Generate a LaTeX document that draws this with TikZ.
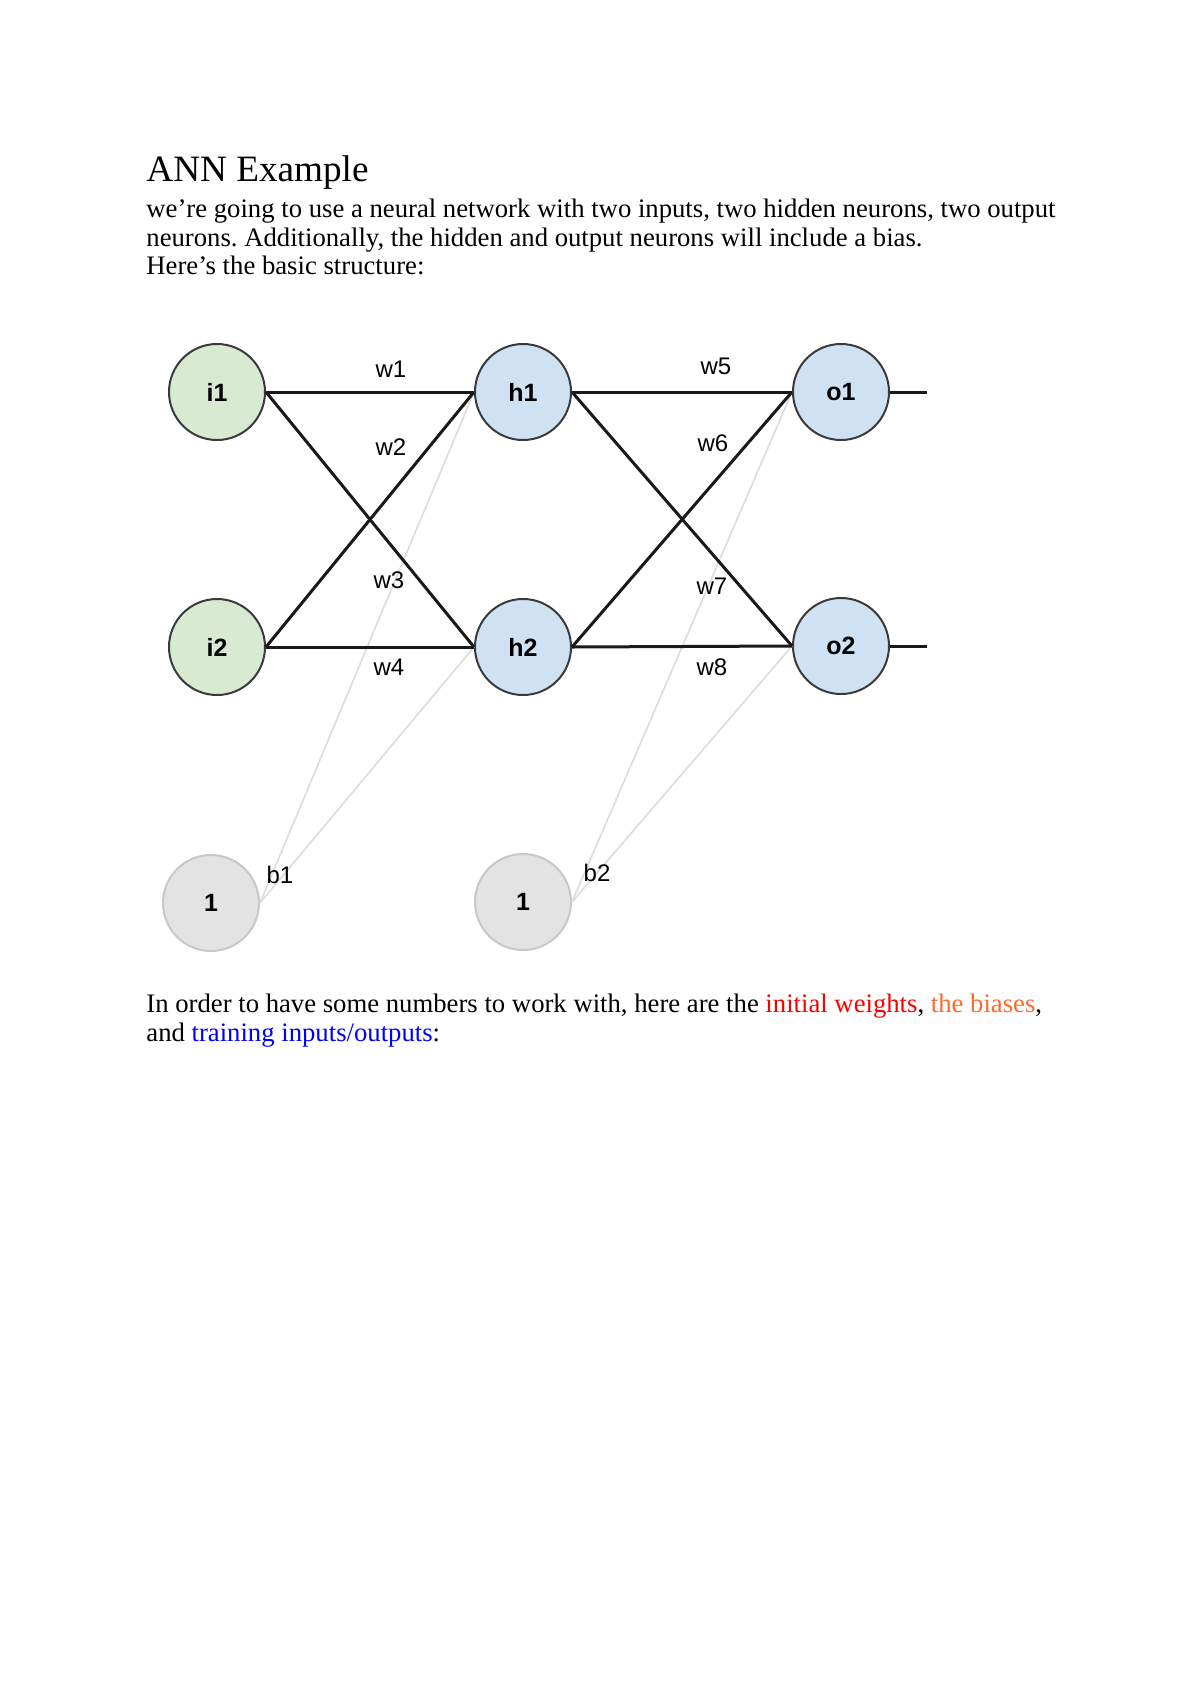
\documentclass[tikz,border=0pt]{standalone}
\usepackage{fontspec}
\usepackage{xcolor}
\setmainfont{Liberation Serif}
\newfontfamily\abrafont{Liberation Sans}
\usetikzlibrary{arrows.meta,positioning}
\frenchspacing
\definecolor{zoldkor}{HTML}{D9EAD3}
\definecolor{kekkor}{HTML}{CFE2F3}
\definecolor{szurkekor}{HTML}{E3E3E3}
\definecolor{szurkekeret}{HTML}{C8C8C8}
\definecolor{keret}{HTML}{3A3A3A}
\definecolor{halvany}{HTML}{DCDCDC}
\definecolor{narancs}{HTML}{FF6A2B}
\tikzset{
  neuron/.style={circle,draw=keret,line width=1pt,minimum size=48pt,inner sep=0pt,
    font=\abrafont\bfseries\fontsize{12.5}{15}\selectfont},
  bem/.style={neuron,fill=zoldkor},
  rejt/.style={neuron,fill=kekkor},
  eltol/.style={neuron,draw=szurkekeret,fill=szurkekor},
  suly/.style={inner sep=0pt,font=\abrafont\fontsize{12}{14}\selectfont},
  el/.style={line width=1.5pt,black!90},
  halv/.style={line width=0.8pt,halvany},
  sor/.style={anchor=base west,inner sep=0pt,font=\fontsize{13.35}{16}\selectfont},
}

\begin{document}
\begin{tikzpicture}[x=0.5pt,y=-0.5pt]
  \useasboundingbox (0,0) rectangle (1200,1698);
  % szoveg felul
  \node[sor,font=\fontsize{18.6}{22}\selectfont] (cim) at (146,181) {ANN Example};
  \node[sor] (s1) at (146,217) {we’re going to use a neural network with two inputs, two hidden neurons, two output};
  \node[sor] (s2) at (146,246) {neurons. Additionally, the hidden and output neurons will include a bias.};
  \node[sor] (s3) at (146,274) {Here’s the basic structure:};
  % neuronok
  \node[bem] (i1) at (217,392) {i1};
  \node[bem] (i2) at (217,647) {i2};
  \node[rejt] (h1) at (523,392) {h1};
  \node[rejt] (h2) at (523,647) {h2};
  \node[rejt] (o1) at (841,392) {o1};
  \node[rejt] (o2) at (841,646) {o2};
  \node[eltol] (b1) at (211,903) {1};
  \node[eltol] (b2) at (523,902) {1};
  \coordinate (ki1) at (927,392);
  \coordinate (ki2) at (927,646);
  % bias elek
  \draw[halv] (b1.east) -- (h1.west);
  \draw[halv] (b1.east) -- (h2.west);
  \draw[halv] (b2.east) -- (o1.west);
  \draw[halv] (b2.east) -- (o2.west);
  % sulyok
  \foreach \a/\b in {i1/h1,i1/h2,i2/h1,i2/h2,h1/o1,h1/o2,h2/o1,h2/o2}
    \draw[el] (\a.east) -- (\b.west);
  \draw[el] (o1.east) -- (ki1);
  \draw[el] (o2.east) -- (ki2);
  \node[suly] (w1) at (391,369) {w1};
  \node[suly] (w2) at (391,447) {w2};
  \node[suly] (w3) at (389,580) {w3};
  \node[suly] (w4) at (389,667) {w4};
  \node[suly] (w5) at (716,366) {w5};
  \node[suly] (w6) at (713,443) {w6};
  \node[suly] (w7) at (712,586) {w7};
  \node[suly] (w8) at (712,667) {w8};
  \node[suly] (c1) at (280,875) {b1};
  \node[suly] (c2) at (597,873) {b2};
  % szoveg alul
  \node[sor] (s4) at (146,1012) {In order to have some numbers to work with, here are the \textcolor{red}{initial weights}, \textcolor{narancs}{the biases},};
  \node[sor] (s5) at (146,1041) {and \textcolor{blue}{training inputs/outputs}:};
\end{tikzpicture}
\end{document}
